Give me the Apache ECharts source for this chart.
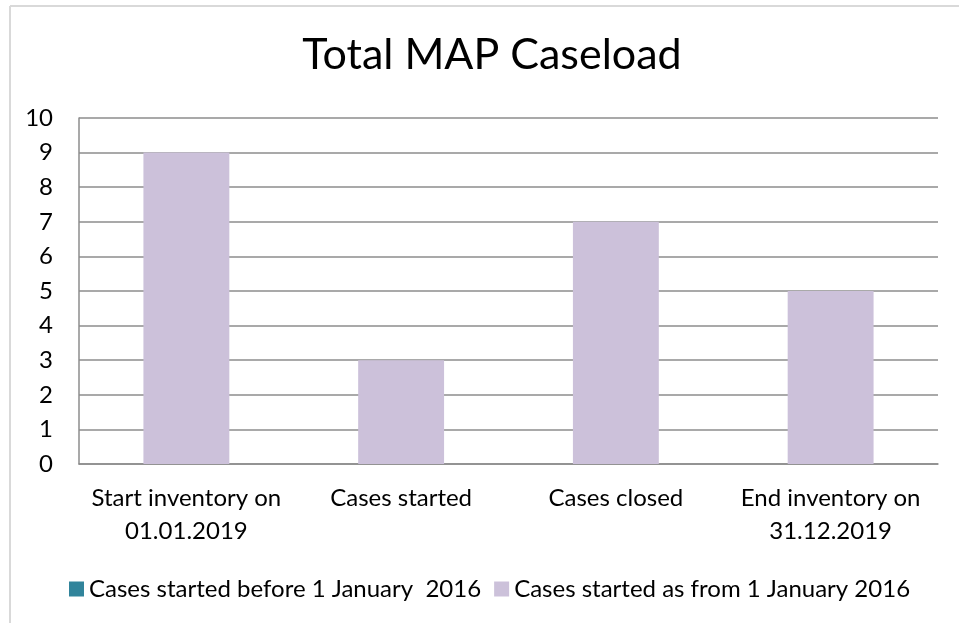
<!DOCTYPE html>
<html>
<head>
<meta charset="utf-8">
<script src="https://cdn.jsdelivr.net/npm/echarts@6/dist/echarts.min.js"></script>
<style>
  html, body { margin: 0; padding: 0; background: #fff; }
  #chart { width: 959px; height: 623px; }
</style>
</head>
<body>
<div id="chart"></div>
<script>
// Total MAP Caseload - data
const categories = ['Start inventory on\n01.01.2019', 'Cases started', 'Cases closed', 'End inventory on\n31.12.2019'];
const seriesNames = ['Cases started before 1 January  2016', 'Cases started as from 1 January 2016'];
const beforeValues = [0, 0, 0, 0];
const fromValues = [9, 3, 7, 5];
const yTicks = { min: 0, max: 10, interval: 1 };

const FONT = 'Lato';
const GRID_COLOR = '#8c8c8c';

const chart = echarts.init(document.getElementById('chart'));
chart.setOption({
    animation: false,
    backgroundColor: '#fff',
    textStyle: { fontFamily: FONT },
    title: {
        text: 'Total MAP Caseload',
        left: 487,
        textAlign: 'center',
        top: 29,
        textStyle: { fontFamily: FONT, fontSize: 43, fontWeight: 'normal', color: '#000' }
    },
    // outer chart frame (only top and left edges are visible)
    graphic: [
        { type: 'line', shape: { x1: 10, y1: 6, x2: 959, y2: 6 }, style: { stroke: '#d9d9d9', lineWidth: 2 } },
        { type: 'line', shape: { x1: 10, y1: 6, x2: 10, y2: 623 }, style: { stroke: '#d9d9d9', lineWidth: 2 } }
    ],
    legend: {
        top: 572,
        left: 64,
        itemWidth: 15,
        itemHeight: 15,
        itemGap: 13,
        icon: 'rect',
        textStyle: { fontFamily: FONT, fontSize: 24, color: '#000' },
        data: seriesNames
    },
    grid: { left: 79, right: 21, top: 118, bottom: 159 },
    xAxis: {
        type: 'category',
        data: categories,
        axisLine: { lineStyle: { color: GRID_COLOR, width: 1.5 } },
        axisTick: { show: false },
        axisLabel: { fontFamily: FONT, fontSize: 24, color: '#000', margin: 18, lineHeight: 33, interval: 0 }
    },
    yAxis: {
        type: 'value',
        min: yTicks.min,
        max: yTicks.max,
        interval: yTicks.interval,
        axisLine: { show: true, lineStyle: { color: GRID_COLOR, width: 1.5 } },
        axisTick: { show: false },
        splitLine: { lineStyle: { color: GRID_COLOR, width: 1.5 } },
        axisLabel: { fontFamily: FONT, fontSize: 24, color: '#000', margin: 26 }
    },
    series: [
        {
            name: seriesNames[0],
            type: 'bar',
            stack: 'total',
            barWidth: '40%',
            itemStyle: { color: '#31849b' },
            data: beforeValues
        },
        {
            name: seriesNames[1],
            type: 'bar',
            stack: 'total',
            barWidth: '40%',
            itemStyle: { color: '#ccc1da' },
            data: fromValues
        }
    ]
});
</script>
</body>
</html>
